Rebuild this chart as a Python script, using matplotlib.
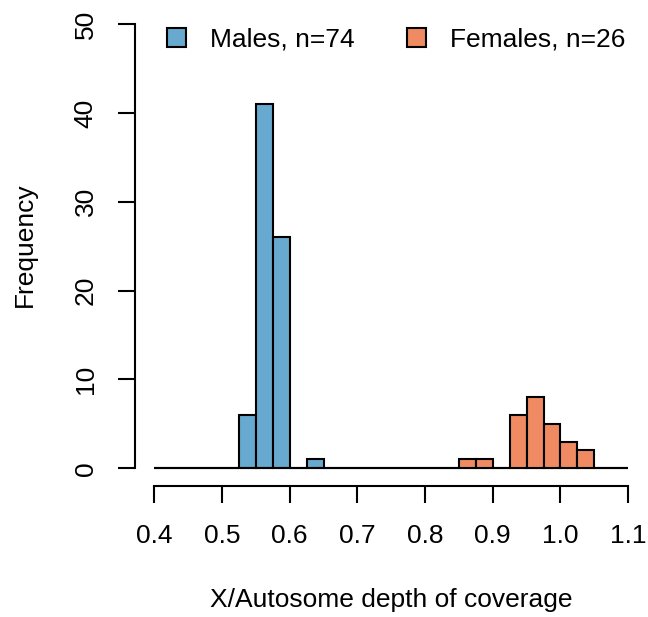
import numpy as np
import matplotlib
matplotlib.use("Agg")
import matplotlib.pyplot as plt
from matplotlib.patches import Patch

plt.rcParams['font.family'] = ['Liberation Sans', 'DejaVu Sans']

# Histogram bins (breaks from 0.4 to 1.1 by 0.025)
bin_start = 0.4
bin_width = 0.025
n_bins = 28
male_counts = [0, 0, 0, 0, 0, 6, 41, 26, 0, 1, 0, 0, 0, 0,
               0, 0, 0, 0, 0, 0, 0, 0, 0, 0, 0, 0, 0, 0]
female_counts = [0, 0, 0, 0, 0, 0, 0, 0, 0, 0, 0, 0, 0, 0,
                 0, 0, 0, 0, 1, 1, 0, 6, 8, 5, 3, 2, 0, 0]
labels = ["Males, n=74", "Females, n=26"]
colors = ["#67a9cf", "#ef8a62"]
xticks = [0.4, 0.5, 0.6, 0.7, 0.8, 0.9, 1.0, 1.1]
xticklabels = ["0.4", "0.5", "0.6", "0.7", "0.8", "0.9", "1.0", "1.1"]
yticks = [0, 10, 20, 30, 40, 50]

W, H = 648, 617
FS = 19
fig = plt.figure(figsize=(W / 100, H / 100), dpi=100)
ax = fig.add_axes([135.3 / W, (H - 486) / H, 511.8 / W, 479.5 / H])

edges = bin_start + bin_width * np.arange(n_bins)
lw = 1.5
for counts, col in zip([male_counts, female_counts], colors):
    ax.bar(edges, counts, width=bin_width, align='edge', color=col,
           edgecolor='black', linewidth=lw)

ax.set_xlim(0.372, 1.128)
ax.set_ylim(-2, 52)
for s in ['top', 'right']:
    ax.spines[s].set_visible(False)
ax.spines['left'].set_bounds(0, 50)
ax.spines['bottom'].set_bounds(0.4, 1.1)
ax.spines['left'].set_linewidth(lw)
ax.spines['bottom'].set_linewidth(lw)
ax.set_xticks(xticks)
ax.set_xticklabels(xticklabels)
ax.set_yticks(yticks)
ax.tick_params(axis='both', length=12.2, width=lw, labelsize=FS)
ax.tick_params(axis='x', pad=15)
ax.tick_params(axis='y', pad=15, labelrotation=90)
for t in ax.get_yticklabels():
    t.set_va('center')

fig.text(391 / W, 1 - 600 / H, "X/Autosome depth of coverage", ha='center',
         va='center', fontsize=FS)
fig.text(25 / W, 1 - 245 / H, "Frequency", ha='center', va='center',
         rotation=90, fontsize=FS)

handles = [Patch(facecolor=c, edgecolor='black', linewidth=lw) for c in colors]
ax.legend(handles, labels, ncol=2, frameon=False, loc='center left',
          bbox_to_anchor=((167 - 135.3) / 511.8, (486 - 40) / 479.5),
          borderaxespad=0, borderpad=0, handlelength=0.72, handleheight=0.72,
          handletextpad=0.9, columnspacing=2.0, fontsize=FS)

fig.savefig("out.png", dpi=100)
